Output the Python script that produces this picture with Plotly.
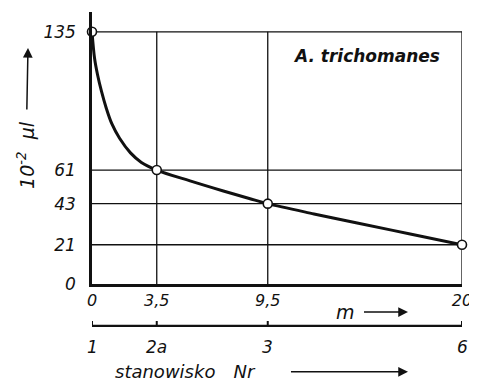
import plotly.graph_objects as go

# --- data ---
m_points = [0, 3.5, 9.5, 20]            # distance m
v_points = [135, 61, 43, 21]            # 10^-2 µl
m_tick_labels = ["0", "3,5", "9,5", "20"]
y_ticks = [0, 21, 43, 61, 135]
y_tick_labels = ["0", "21", "43", "61", "135"]
station_labels = ["1", "2a", "3", "6"]  # stanowisko Nr at the same m positions

# smooth curve
curve_m = [0, 0.14, 0.3, 0.51, 0.76, 1.07, 1.49, 2.08, 2.67, 3.5,
           5.3, 7.1, 8.5, 9.5, 12, 14.4, 17.2, 20]
curve_v = [135, 120.7, 112, 103.2, 94.5, 85.8, 78, 70.2, 65.1, 61,
           55.2, 49.8, 45.8, 43, 37.5, 32.5, 26.8, 21]

INK = "#111111"
FONT = "DejaVu Sans"
Y_TOP = 145.6


def tfont(size, **kw):
    return dict(family=FONT, size=size, style="italic", color=INK, **kw)


fig = go.Figure()

# grid lines (only inside the drawn box)
for v in y_ticks[1:]:
    fig.add_shape(type="line", xref="x", yref="y", x0=0, x1=m_points[-1], y0=v, y1=v,
                  line=dict(color=INK, width=1.3), layer="below")
for m in m_points[1:]:
    fig.add_shape(type="line", xref="x", yref="y", x0=m, x1=m, y0=0, y1=v_points[0],
                  line=dict(color=INK, width=1.3), layer="below")

# curve
fig.add_trace(go.Scatter(x=curve_m, y=curve_v, mode="lines",
                         line=dict(color=INK, width=3, shape="spline", smoothing=1),
                         cliponaxis=False, hoverinfo="skip", showlegend=False))
# measured points
fig.add_trace(go.Scatter(x=m_points, y=v_points, mode="markers",
                         marker=dict(symbol="circle", size=9, color="white",
                                     line=dict(color=INK, width=1.6)),
                         cliponaxis=False, showlegend=False))

# second scale: stanowisko Nr
BR_Y = -0.154
fig.add_shape(type="line", xref="x", yref="paper", x0=m_points[0], x1=m_points[-1],
              y0=BR_Y, y1=BR_Y, line=dict(color=INK, width=2.2))
for m, lab in zip(m_points, station_labels):
    fig.add_shape(type="line", xref="x", yref="paper", x0=m, x1=m,
                  y0=BR_Y, y1=BR_Y + 0.018, line=dict(color=INK, width=2))
    fig.add_annotation(x=m, y=-0.232, xref="x", yref="paper", text=lab, showarrow=False,
                       xanchor="center", yanchor="middle", font=tfont(17))

# "stanowisko Nr" with arrow (text sits at arrow tail)
fig.add_annotation(x=0.854, y=-0.323, xref="paper", yref="paper",
                   text="stanowisko\u2003Nr", showarrow=True, ax=-222, ay=0,
                   xanchor="center", yanchor="middle",
                   arrowhead=2, arrowsize=1.3, arrowwidth=1.5, arrowcolor=INK,
                   startstandoff=33, font=tfont(18))

# "m ->"
fig.add_annotation(x=0.854, y=-0.103, xref="paper", yref="paper", text="m",
                   showarrow=True, ax=-62, ay=0, xanchor="center", yanchor="middle",
                   arrowhead=2, arrowsize=1.3, arrowwidth=1.5, arrowcolor=INK,
                   startstandoff=7, font=tfont(19))

# y title with arrow
fig.add_annotation(x=-0.173, y=0.868, xref="paper", yref="paper",
                   text="10<sup>-2</sup>  µl", textangle=-90, showarrow=True,
                   ax=-2, ay=107, xanchor="center", yanchor="middle",
                   arrowhead=2, arrowsize=1.3, arrowwidth=1.5, arrowcolor=INK,
                   startstandoff=10, font=tfont(19))

# species label
fig.add_annotation(x=0.741, y=0.838, xref="paper", yref="paper", text="A. trichomanes",
                   showarrow=False, xanchor="center", yanchor="middle",
                   font=tfont(17, weight="bold"))

fig.update_xaxes(range=[0, 20], tickvals=m_points, ticktext=m_tick_labels,
                 showgrid=False, zeroline=False, showline=True, linewidth=2.5,
                 linecolor=INK, ticks="", ticklabelstandoff=0,
                 ticklabeloverflow="allow", tickfont=tfont(16))
fig.update_yaxes(range=[0, Y_TOP], tickvals=y_ticks, ticktext=y_tick_labels,
                 showgrid=False, zeroline=False, showline=True, linewidth=2.5,
                 linecolor=INK, ticks="", ticklabelstandoff=10, tickfont=tfont(17))

# the page body adds an 8px margin at the top-left, so the figure is shifted by 8px
fig.update_layout(width=469, height=375, margin=dict(l=84, r=15, t=4, b=99),
                  plot_bgcolor="white", paper_bgcolor="white", showlegend=False)

fig.write_html("out.html")
